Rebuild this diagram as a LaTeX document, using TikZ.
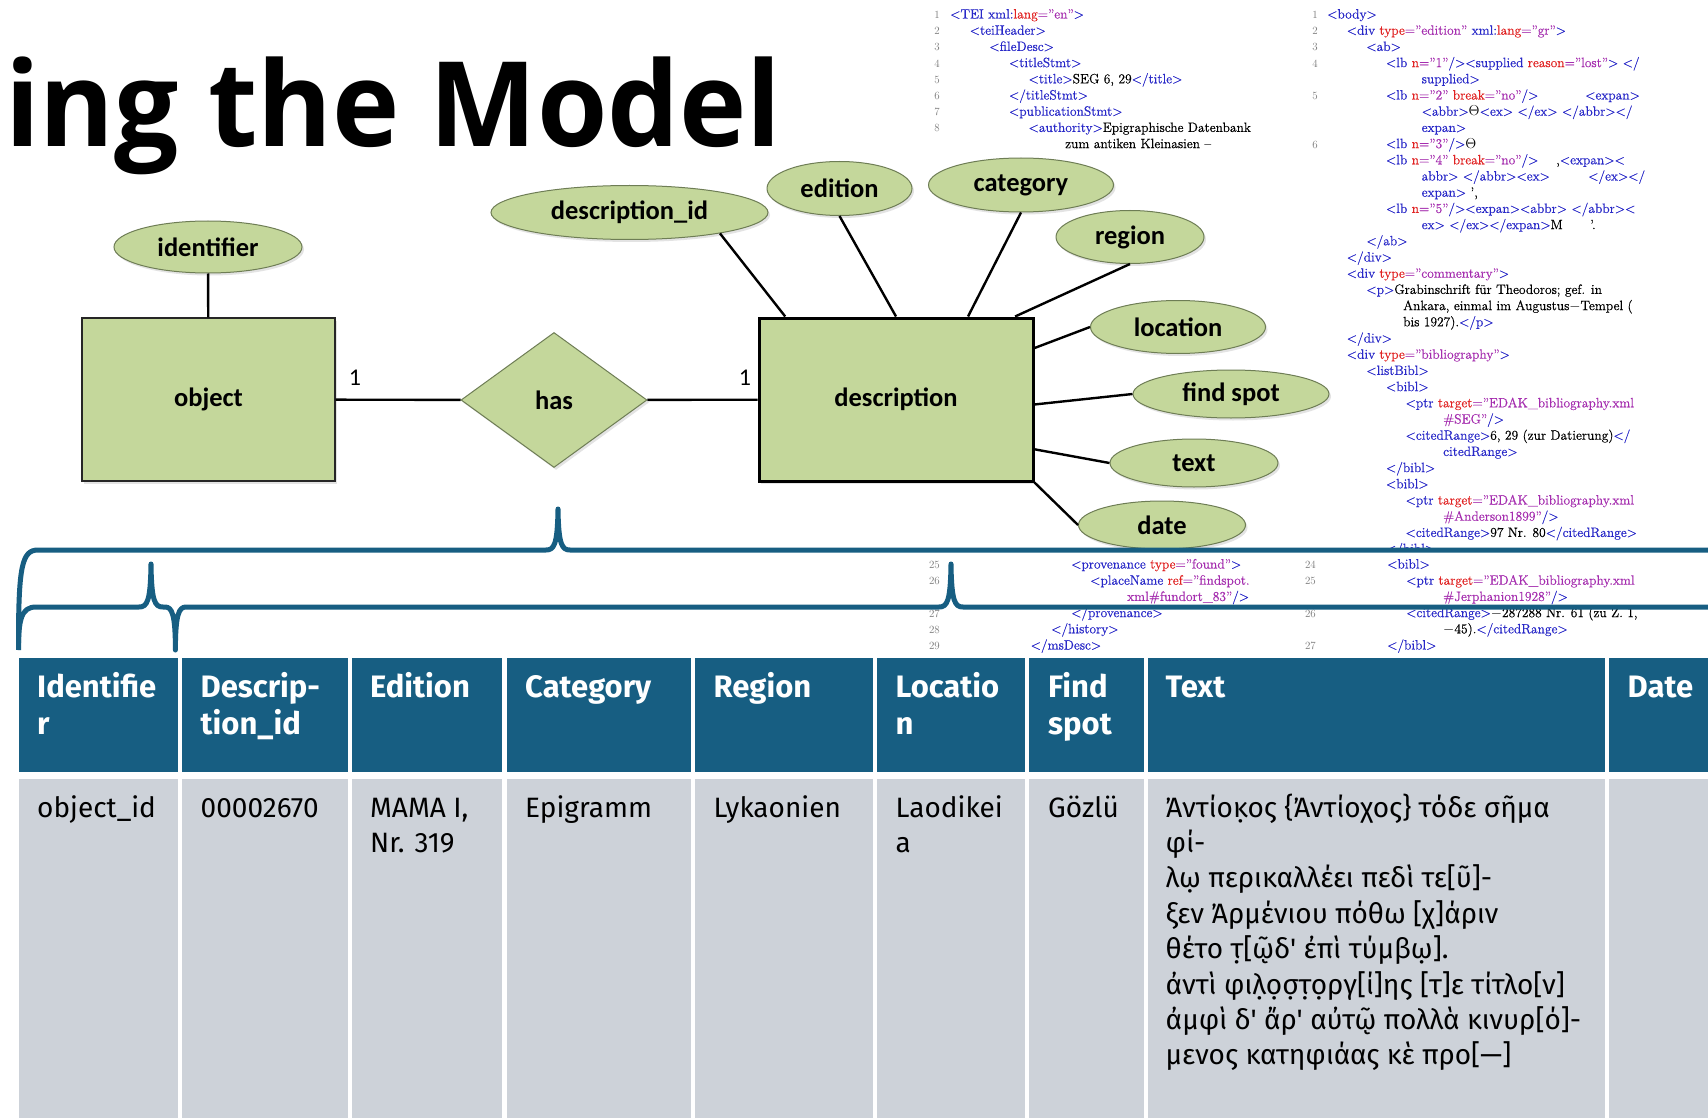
\documentclass[tikz,border=0pt]{standalone}
\usepackage{fontspec}
\usetikzlibrary{shapes.geometric,shadows,calc}
\newfontfamily\titlefont{Open Sans}[FakeStretch=0.965]
\newfontfamily\erfont{Carlito}
\newfontfamily\tabfont{Fira Sans}
\newfontfamily\codefont{Latin Modern Roman}[FakeBold=0.6, Ligatures=TeX]
\definecolor{hdr}{RGB}{23,94,130}
\definecolor{bodyc}{RGB}{205,210,217}
\definecolor{erg}{RGB}{196,215,155}
\definecolor{erb}{RGB}{110,125,85}
\definecolor{xtagc}{RGB}{40,40,200}
\definecolor{xattc}{RGB}{225,35,35}
\definecolor{xvalc}{RGB}{165,45,175}
\definecolor{numc}{RGB}{120,120,120}
\newcommand\xt[1]{\textcolor{xtagc}{#1}}
\newcommand\xa[1]{\textcolor{xattc}{#1}}
\newcommand\xv[1]{\textcolor{xvalc}{#1}}
\newcommand\codeR[4]{\node[code] (#1) at (#2,{18.5+16.2*#3}) {#4};}
\newcommand\codeS[4]{\node[code] (#1) at (#2,{568.5+16.2*#3}) {#4};}
\newcommand\numR[4]{\node[lnum] (#1) at (#2,{18.5+16.2*#3}) {#4};}
\newcommand\numS[4]{\node[lnum] (#1) at (#2,{568.5+16.2*#3}) {#4};}
\begin{document}
\begin{tikzpicture}[x=1pt,y=-1pt,
  code/.style={anchor=base west, inner sep=0pt, font=\codefont\fontsize{13.5}{16.2}\selectfont},
  lnum/.style={anchor=base east, inner sep=0pt, text=numc, font=\fontsize{11}{13}\selectfont},
  attr/.style={ellipse, draw=erb, line width=1pt, fill=erg, inner sep=0pt,
    font=\erfont\bfseries\fontsize{26.5}{30}\selectfont,
    drop shadow={shadow xshift=2pt, shadow yshift=-2.5pt, opacity=0.22}},
  entity/.style={rectangle, fill=erg, inner sep=0pt,
    font=\erfont\bfseries\fontsize{26.5}{30}\selectfont,
    drop shadow={shadow xshift=2pt, shadow yshift=-2.5pt, opacity=0.22}},
  card/.style={inner sep=0pt, font=\erfont\fontsize{24}{28}\selectfont},
  conn/.style={line width=2.4pt, black},
  brace/.style={draw=hdr, line width=5pt, line join=round},
  hdrtxt/.style={anchor=base west, inner sep=0pt, text=white, font=\tabfont\bfseries\fontsize{31}{37}\selectfont},
  bodytxt/.style={anchor=base west, inner sep=0pt, text=black, font=\tabfont\fontsize{28}{35}\selectfont}]
\useasboundingbox (0,0) rectangle (1708,1118);
\clip (0,0) rectangle (1708,1118);
\fill[white] (0,0) rectangle (1708,1118);

% title
\node[anchor=base west, inner sep=0pt, font=\titlefont\bfseries\fontsize{118}{120}\selectfont] (title) at (5,147) {ing the Model};

% ---- top-left code panel
\numR{tn1}{940}{0}{1}\numR{tn2}{940}{1}{2}\numR{tn3}{940}{2}{3}\numR{tn4}{940}{3}{4}
\numR{tn5}{940}{4}{5}\numR{tn6}{940}{5}{6}\numR{tn7}{940}{6}{7}\numR{tn8}{940}{7}{8}
\codeR{tl0}{950}{0}{\xt{<TEI xml:}\xa{lang}\xv{=”en”}\xt{>}}
\codeR{tl1}{969.6}{1}{\xt{<teiHeader>}}
\codeR{tl2}{989.2}{2}{\xt{<fileDesc>}}
\codeR{tl3}{1008.8}{3}{\xt{<titleStmt>}}
\codeR{tl4}{1028.4}{4}{\xt{<title>}SEG 6, 29\xt{</title>}}
\codeR{tl5}{1008.8}{5}{\xt{</titleStmt>}}
\codeR{tl6}{1008.8}{6}{\xt{<publicationStmt>}}
\codeR{tl7}{1028.4}{7}{\xt{<authority>}Epigraphische Datenbank}
\codeR{tl8}{1065}{8}{zum antiken Kleinasien --}

% ---- right code panel
\begin{scope}
\clip (1290,0) rectangle (1708,549);
\numR{rn1}{1318}{0}{1}\numR{rn2}{1318}{1}{2}\numR{rn3}{1318}{2}{3}
\numR{rn4}{1318}{3}{4}\numR{rn5}{1318}{5}{5}\numR{rn6}{1318}{8}{6}
\codeR{r0}{1327}{0}{\xt{<body>}}
\codeR{r1}{1346.6}{1}{\xt{<div} \xa{type}\xv{=”edition”} \xt{xml:}\xa{lang}\xv{=”gr”}\xt{>}}
\codeR{r2}{1366.2}{2}{\xt{<ab>}}
\codeR{r3}{1385.8}{3}{\xt{<lb} \xa{n}\xv{=”1”}\xt{/><supplied} \xa{reason}\xv{=”lost”}\xt{>} \xt{</}}
\codeR{r4}{1421.5}{4}{\xt{supplied>}}
\codeR{r5}{1385.8}{5}{\xt{<lb} \xa{n}\xv{=”2”} \xa{break}\xv{=”no”}\xt{/>}}
\codeR{r5b}{1585}{5}{\xt{<expan>}}
\codeR{r6}{1421.5}{6}{\xt{<abbr>}$\Theta$\xt{<ex>} \xt{</ex>} \xt{</abbr></}}
\codeR{r7}{1421.5}{7}{\xt{expan>}}
\codeR{r8}{1385.8}{8}{\xt{<lb} \xa{n}\xv{=”3”}\xt{/>}$\Theta$}
\codeR{r9}{1385.8}{9}{\xt{<lb} \xa{n}\xv{=”4”} \xa{break}\xv{=”no”}\xt{/>}}
\codeR{r9b}{1556}{9}{,\xt{<expan><}}
\codeR{r10}{1421.5}{10}{\xt{abbr>} \xt{</abbr><ex>}}
\codeR{r10b}{1588}{10}{\xt{</ex></}}
\codeR{r11}{1421.5}{11}{\xt{expan>} ’,}
\codeR{r12}{1385.8}{12}{\xt{<lb} \xa{n}\xv{=”5”}\xt{/><expan><abbr>} \xt{</abbr><}}
\codeR{r13}{1421.5}{13}{\xt{ex>} \xt{</ex></expan>}M}
\codeR{r13b}{1590}{13}{’.}
\codeR{r14}{1366.2}{14}{\xt{</ab>}}
\codeR{r15}{1346.6}{15}{\xt{</div>}}
\codeR{r16}{1346.6}{16}{\xt{<div} \xa{type}\xv{=”commentary”}\xt{>}}
\codeR{r17}{1366.2}{17}{\xt{<p>}Grabinschrift für Theodoros; gef. in}
\codeR{r18}{1403}{18}{Ankara, einmal im Augustus$-$Tempel (}
\codeR{r19}{1403}{19}{bis 1927).\xt{</p>}}
\codeR{r20}{1346.6}{20}{\xt{</div>}}
\codeR{r21}{1346.6}{21}{\xt{<div} \xa{type}\xv{=”bibliography”}\xt{>}}
\codeR{r22}{1366.2}{22}{\xt{<listBibl>}}
\codeR{r23}{1385.8}{23}{\xt{<bibl>}}
\codeR{r24}{1405.4}{24}{\xt{<ptr} \xa{target}\xv{=”EDAK\_bibliography.xml}}
\codeR{r25}{1443}{25}{\xv{\#SEG”}\xt{/>}}
\codeR{r26}{1405.4}{26}{\xt{<citedRange>}6, 29 (zur Datierung)\xt{</}}
\codeR{r27}{1443}{27}{\xt{citedRange>}}
\codeR{r28}{1385.8}{28}{\xt{</bibl>}}
\codeR{r29}{1385.8}{29}{\xt{<bibl>}}
\codeR{r30}{1405.4}{30}{\xt{<ptr} \xa{target}\xv{=”EDAK\_bibliography.xml}}
\codeR{r31}{1443}{31}{\xv{\#Anderson1899”}\xt{/>}}
\codeR{r32}{1405.4}{32}{\xt{<citedRange>}97 Nr. 80\xt{</citedRange>}}
\codeR{r33}{1385.8}{33}{\xt{</bibl>}}
\end{scope}

% ---- lower code strip
\begin{scope}
\clip (900,555) rectangle (1708,656);
\numS{sn1}{940}{0}{25}\numS{sn2}{940}{1}{26}\numS{sn3}{940}{3}{27}\numS{sn4}{940}{4}{28}\numS{sn5}{940}{5}{29}
\numS{sm1}{1316}{0}{24}\numS{sm2}{1316}{1}{25}\numS{sm3}{1316}{3}{26}\numS{sm4}{1316}{5}{27}
\codeS{s0}{1071}{0}{\xt{<provenance} \xa{type}\xv{=”found”}\xt{>}}
\codeS{s1}{1090}{1}{\xt{<placeName} \xa{ref}\xv{=”findspot.}}
\codeS{s2}{1127}{2}{\xv{xml\#fundort\_83”}\xt{/>}}
\codeS{s3}{1071}{3}{\xt{</provenance>}}
\codeS{s4}{1051}{4}{\xt{</history>}}
\codeS{s5}{1030.5}{5}{\xt{</msDesc>}}
\codeS{t0}{1387}{0}{\xt{<bibl>}}
\codeS{t1}{1406}{1}{\xt{<ptr} \xa{target}\xv{=”EDAK\_bibliography.xml}}
\codeS{t2}{1443}{2}{\xv{\#Jerphanion1928”}\xt{/>}}
\codeS{t3}{1406}{3}{\xt{<citedRange>}$-$287288 Nr. 61 (zu Z. 1,}
\codeS{t4}{1443}{4}{$-$45).\xt{</citedRange>}}
\codeS{t5}{1387}{5}{\xt{</bibl>}}
\end{scope}

% ---- ER diagram
\node[entity, draw=black!85, line width=1.2pt, minimum width=253, minimum height=163] (object) at (208.5,399.5) {object};
\node[diamond, aspect=1.38, draw=erb, line width=1pt, fill=erg, inner sep=0pt, minimum width=186, minimum height=135,
  font=\erfont\bfseries\fontsize{26.5}{30}\selectfont,
  drop shadow={shadow xshift=2pt, shadow yshift=-2.5pt, opacity=0.22}] (has) at (554,400) {has};
\node[entity, draw=black, line width=3pt, minimum width=274, minimum height=163] (desc) at (896,399.5) {description};
\node[attr, minimum width=188, minimum height=52] (aid) at (208,247) {identifier};
\node[attr, minimum width=277, minimum height=54] (adescid) at (629.5,212.5) {description\_id};
\node[attr, minimum width=145, minimum height=54] (aedition) at (839.5,188.5) {edition};
\node[attr, minimum width=185, minimum height=54] (acategory) at (1021,185) {category};
\node[attr, minimum width=148, minimum height=53] (aregion) at (1130,237) {region};
\node[attr, minimum width=175, minimum height=53] (alocation) at (1178,327) {location};
\node[attr, minimum width=196, minimum height=48] (afindspot) at (1231,394) {find spot};
\node[attr, minimum width=168, minimum height=48] (atext) at (1194,463) {text};
\node[attr, minimum width=167, minimum height=48] (adate) at (1162,525) {date};
\node[card] (c1) at (355,378) {1};
\node[card] (c2) at (745,378) {1};

\draw[conn] (aid) -- (object);
\draw[conn] (object) -- (has);
\draw[conn] (has) -- (desc);
\draw[conn] (adescid.-13) -- ($(desc.north west)!0.10!(desc.north east)$);
\draw[conn] (aedition.south) -- ($(desc.north west)!0.50!(desc.north east)$);
\draw[conn] (acategory.south) -- ($(desc.north west)!0.76!(desc.north east)$);
\draw[conn] (aregion.south) -- ($(desc.north west)!0.93!(desc.north east)$);
\draw[conn] (alocation.west) -- ($(desc.north east)!0.19!(desc.south east)$);
\draw[conn] (afindspot.west) -- ($(desc.north east)!0.53!(desc.south east)$);
\draw[conn] (atext.west) -- ($(desc.north east)!0.80!(desc.south east)$);
\draw[conn] (adate.west) -- (desc.south east);

% ---- braces
\draw[brace] (18.5,643) .. controls (18.5,566) and (22,550) .. (38,550) -- (546,550)
  .. controls (554,550) and (557.5,545) .. (558,509)
  .. controls (558.5,545) and (562,550) .. (570,550) -- (1720,550);
\draw[brace] (18.5,650) .. controls (18.5,620) and (21,607) .. (36,607) -- (139,607)
  .. controls (147,607) and (150.5,602) .. (151,564)
  .. controls (151.5,602) and (155,607) .. (163,607) -- (165,607)
  .. controls (172,607) and (175.4,614) .. (175.4,650)
  .. controls (175.4,614) and (179,607) .. (186,607) -- (939,607)
  .. controls (947,607) and (950.5,602) .. (951,564)
  .. controls (951.5,602) and (955,607) .. (963,607) -- (1720,607);

% ---- table
\foreach \a/\b in {18.5/177.6, 181.9/347.5, 351.8/502.2, 506.5/690.6, 695/872.5, 877/1025, 1029.4/1143.8, 1148/1604.5, 1609/1720}{
  \fill[hdr] (\a,658) rectangle (\b,772);
  \fill[bodyc] (\a,779) rectangle (\b,1125);
}
\node[hdrtxt] (h1a) at (37,697) {Identifie};
\node[hdrtxt] (h1b) at (37,734) {r};
\node[hdrtxt] (h2a) at (200.5,697) {Descrip-};
\node[hdrtxt] (h2b) at (200.5,734) {tion\_id};
\node[hdrtxt] (h3) at (370,697) {Edition};
\node[hdrtxt] (h4) at (525,697) {Category};
\node[hdrtxt] (h5) at (713.5,697) {Region};
\node[hdrtxt] (h6a) at (895.5,697) {Locatio};
\node[hdrtxt] (h6b) at (895.5,734) {n};
\node[hdrtxt] (h7a) at (1048,697) {Find};
\node[hdrtxt] (h7b) at (1048,734) {spot};
\node[hdrtxt] (h8) at (1165.5,697) {Text};
\node[hdrtxt] (h9) at (1627.5,697) {Date};

\node[bodytxt] (b1) at (37,817) {object\_id};
\node[bodytxt] (b2) at (200.5,817) {00002670};
\node[bodytxt] (b3a) at (370,817) {MAMA I,};
\node[bodytxt] (b3b) at (370,852.4) {Nr. 319};
\node[bodytxt] (b4) at (525,817) {Epigramm};
\node[bodytxt] (b5) at (713.5,817) {Lykaonien};
\node[bodytxt] (b6a) at (895.5,817) {Laodikei};
\node[bodytxt] (b6b) at (895.5,852.4) {a};
\node[bodytxt] (b7) at (1048,817) {Gözlü};
\node[bodytxt] (g1) at (1165.5,817) {Ἀντίοκ̣ος \{Ἀντίοχος\} τόδε σῆμα};
\node[bodytxt] (g2) at (1165.5,852.4) {φί-};
\node[bodytxt] (g3) at (1165.5,887.8) {λω̣ περικαλλέει πεδὶ τε[ῦ]-};
\node[bodytxt] (g4) at (1165.5,923.2) {ξεν Ἀρμένιου πόθω [χ]άριν};
\node[bodytxt] (g5) at (1165.5,958.6) {θέτο τ̣[ῷδ' ἐπὶ τύμβω̣].};
\node[bodytxt] (g6) at (1165.5,994) {ἀντὶ φιλ̣ο̣σ̣τ̣ο̣ργ[ί]ης [τ]ε τίτλο[ν]};
\node[bodytxt] (g7) at (1165.5,1029.4) {ἀμφὶ δ' ἄρ' αὐτῷ πολλὰ κινυρ[ό]-};
\node[bodytxt] (g8) at (1165.5,1064.8) {μενος κατηφιάας κὲ προ[—]};
\end{tikzpicture}
\end{document}
